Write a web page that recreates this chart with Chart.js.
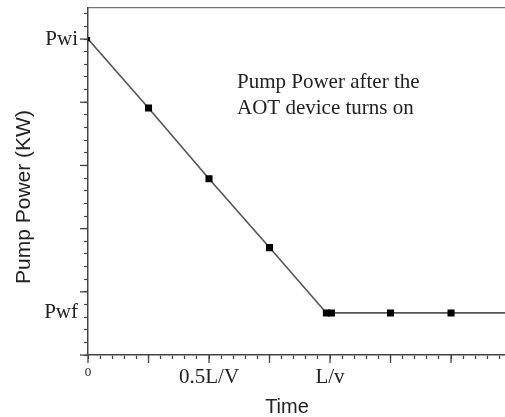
<!DOCTYPE html>
<html>
<head>
<meta charset="utf-8">
<script src="https://cdn.jsdelivr.net/npm/chart.js@4/dist/chart.umd.min.js"></script>
<style>
  html, body { margin: 0; padding: 0; background: #fff; }
  #wrap { width: 505px; height: 417px; position: relative; }
</style>
</head>
<body>
<div id="wrap"><canvas id="pumpChart"></canvas></div>
<script>
// time in units of L/v, power in minor-tick units (Pwi = 25)
const timeValues = [0, 0.25, 0.5, 0.75, 0.985, 1.006, 1.25, 1.5, 1.75];
const powerValues = [25, 19.55, 13.95, 8.5, 3.33, 3.33, 3.33, 3.33, 3.33];
const markerSizes = [3, 5, 5, 5, 5, 5, 5, 5, 0];

const xTickLabels = { 0: "0", 0.5: "0.5L/V", 1: "L/v" };
const yTickLabels = { 25: "Pwi", 3.33: "Pwf" };
const xMajorTicks = [0, 0.25, 0.5, 0.75, 1, 1.25, 1.5];
const yMajorTicks = [0, 5, 10, 15, 20, 25];

const annotationLines = ["Pump Power after the", "AOT device turns on"];
const xTitle = "Time";
const yTitle = "Pump Power (KW)";

const axisColor = "#444";
const serif = "'Liberation Serif', 'Times New Roman', serif";
const sans = "'Liberation Sans', Arial, sans-serif";

function findLabel(map, v) {
  for (const k in map) {
    if (Math.abs(parseFloat(k) - v) < 1e-6) return map[k];
  }
  return "";
}

const points = timeValues.map((t, i) => ({ x: t, y: powerValues[i] }));

// extra drawing: longer major ticks, annotation, axis titles
const extras = {
  id: "extras",
  afterDraw(chart) {
    const ctx = chart.ctx;
    const xs = chart.scales.x;
    const ys = chart.scales.y;
    const area = chart.chartArea;
    ctx.save();
    ctx.strokeStyle = axisColor;
    ctx.lineWidth = 1.3;
    xMajorTicks.forEach(v => {
      const px = xs.getPixelForValue(v);
      ctx.beginPath();
      ctx.moveTo(px, area.bottom);
      ctx.lineTo(px, area.bottom + 8);
      ctx.stroke();
    });
    yMajorTicks.forEach(v => {
      const py = ys.getPixelForValue(v);
      ctx.beginPath();
      ctx.moveTo(area.left, py);
      ctx.lineTo(area.left - 8, py);
      ctx.stroke();
    });

    ctx.fillStyle = "#222";
    ctx.font = "21px " + serif;
    ctx.textAlign = "left";
    ctx.textBaseline = "alphabetic";
    annotationLines.forEach((line, i) => {
      ctx.fillText(line, 237, 88 + i * 26);
    });

    ctx.font = "20px " + sans;
    ctx.textAlign = "center";
    ctx.fillText(xTitle, 287, 413);

    ctx.translate(30, 197);
    ctx.rotate(-Math.PI / 2);
    ctx.font = "21px " + sans;
    ctx.fillText(yTitle, 0, 0);
    ctx.restore();
  }
};

new Chart(document.getElementById("pumpChart"), {
  type: "line",
  data: {
    datasets: [
      {
        data: points,
        borderColor: "#555",
        borderWidth: 1.6,
        pointStyle: "rect",
        pointRadius: markerSizes,
        pointBackgroundColor: "#000",
        pointBorderColor: "#000",
        pointBorderWidth: 0,
        tension: 0,
      },
    ],
  },
  options: {
    responsive: true,
    maintainAspectRatio: false,
    animation: false,
    layout: { autoPadding: false, padding: { top: 7.5, left: 0, right: 0, bottom: 0 } },
    plugins: {
      legend: { display: false },
      tooltip: { enabled: false },
    },
    scales: {
      x: {
        type: "linear",
        position: "bottom",
        min: 0,
        max: 1.723,
        afterBuildTicks: (scale) => {
          const ticks = [];
          for (let i = 0; i <= 34; i++) ticks.push({ value: Math.round(i * 5) / 100 });
          scale.ticks = ticks;
        },
        afterFit: (scale) => {
          scale.height = 62;
          scale.paddingLeft = 0;
          scale.paddingRight = 0;
        },
        ticks: {
          autoSkip: false,
          maxRotation: 0,
          padding: 6,
          color: "#222",
          font: (c) =>
            c.tick && Math.abs(c.tick.value) < 1e-6
              ? { family: serif, size: 13 }
              : { family: serif, size: 21 },
          callback: (v) => findLabel(xTickLabels, v),
        },
        grid: {
          drawOnChartArea: false,
          tickLength: 4,
          tickColor: axisColor,
          tickWidth: 1.2,
        },
        border: { color: axisColor, width: 1.5 },
      },
      x2: {
        type: "linear",
        position: "top",
        min: 0,
        max: 1.723,
        afterFit: (scale) => {
          scale.height = 0;
          scale.paddingLeft = 0;
          scale.paddingRight = 0;
        },
        ticks: { display: false },
        grid: { drawOnChartArea: false, drawTicks: false },
        border: { color: "#777", width: 1.3 },
      },
      y: {
        min: 0,
        max: 27.5,
        afterBuildTicks: (scale) => {
          const ticks = [];
          for (let i = 0; i <= 27; i++) ticks.push({ value: i });
          ticks.push({ value: 3.33 });
          ticks.sort((a, b) => a.value - b.value);
          scale.ticks = ticks;
        },
        afterFit: (scale) => {
          scale.width = 88;
          scale.paddingTop = 0;
          scale.paddingBottom = 0;
        },
        ticks: {
          autoSkip: false,
          padding: 6,
          color: "#222",
          font: { family: serif, size: 21 },
          callback: (v) => findLabel(yTickLabels, v),
        },
        grid: {
          drawOnChartArea: false,
          tickLength: 4,
          tickWidth: 1.2,
          tickColor: (c) =>
            c.tick && Math.abs(c.tick.value - 3.33) < 1e-6 ? "rgba(0,0,0,0)" : axisColor,
        },
        border: { color: axisColor, width: 1.5 },
      },
    },
  },
  plugins: [extras],
});
</script>
</body>
</html>
